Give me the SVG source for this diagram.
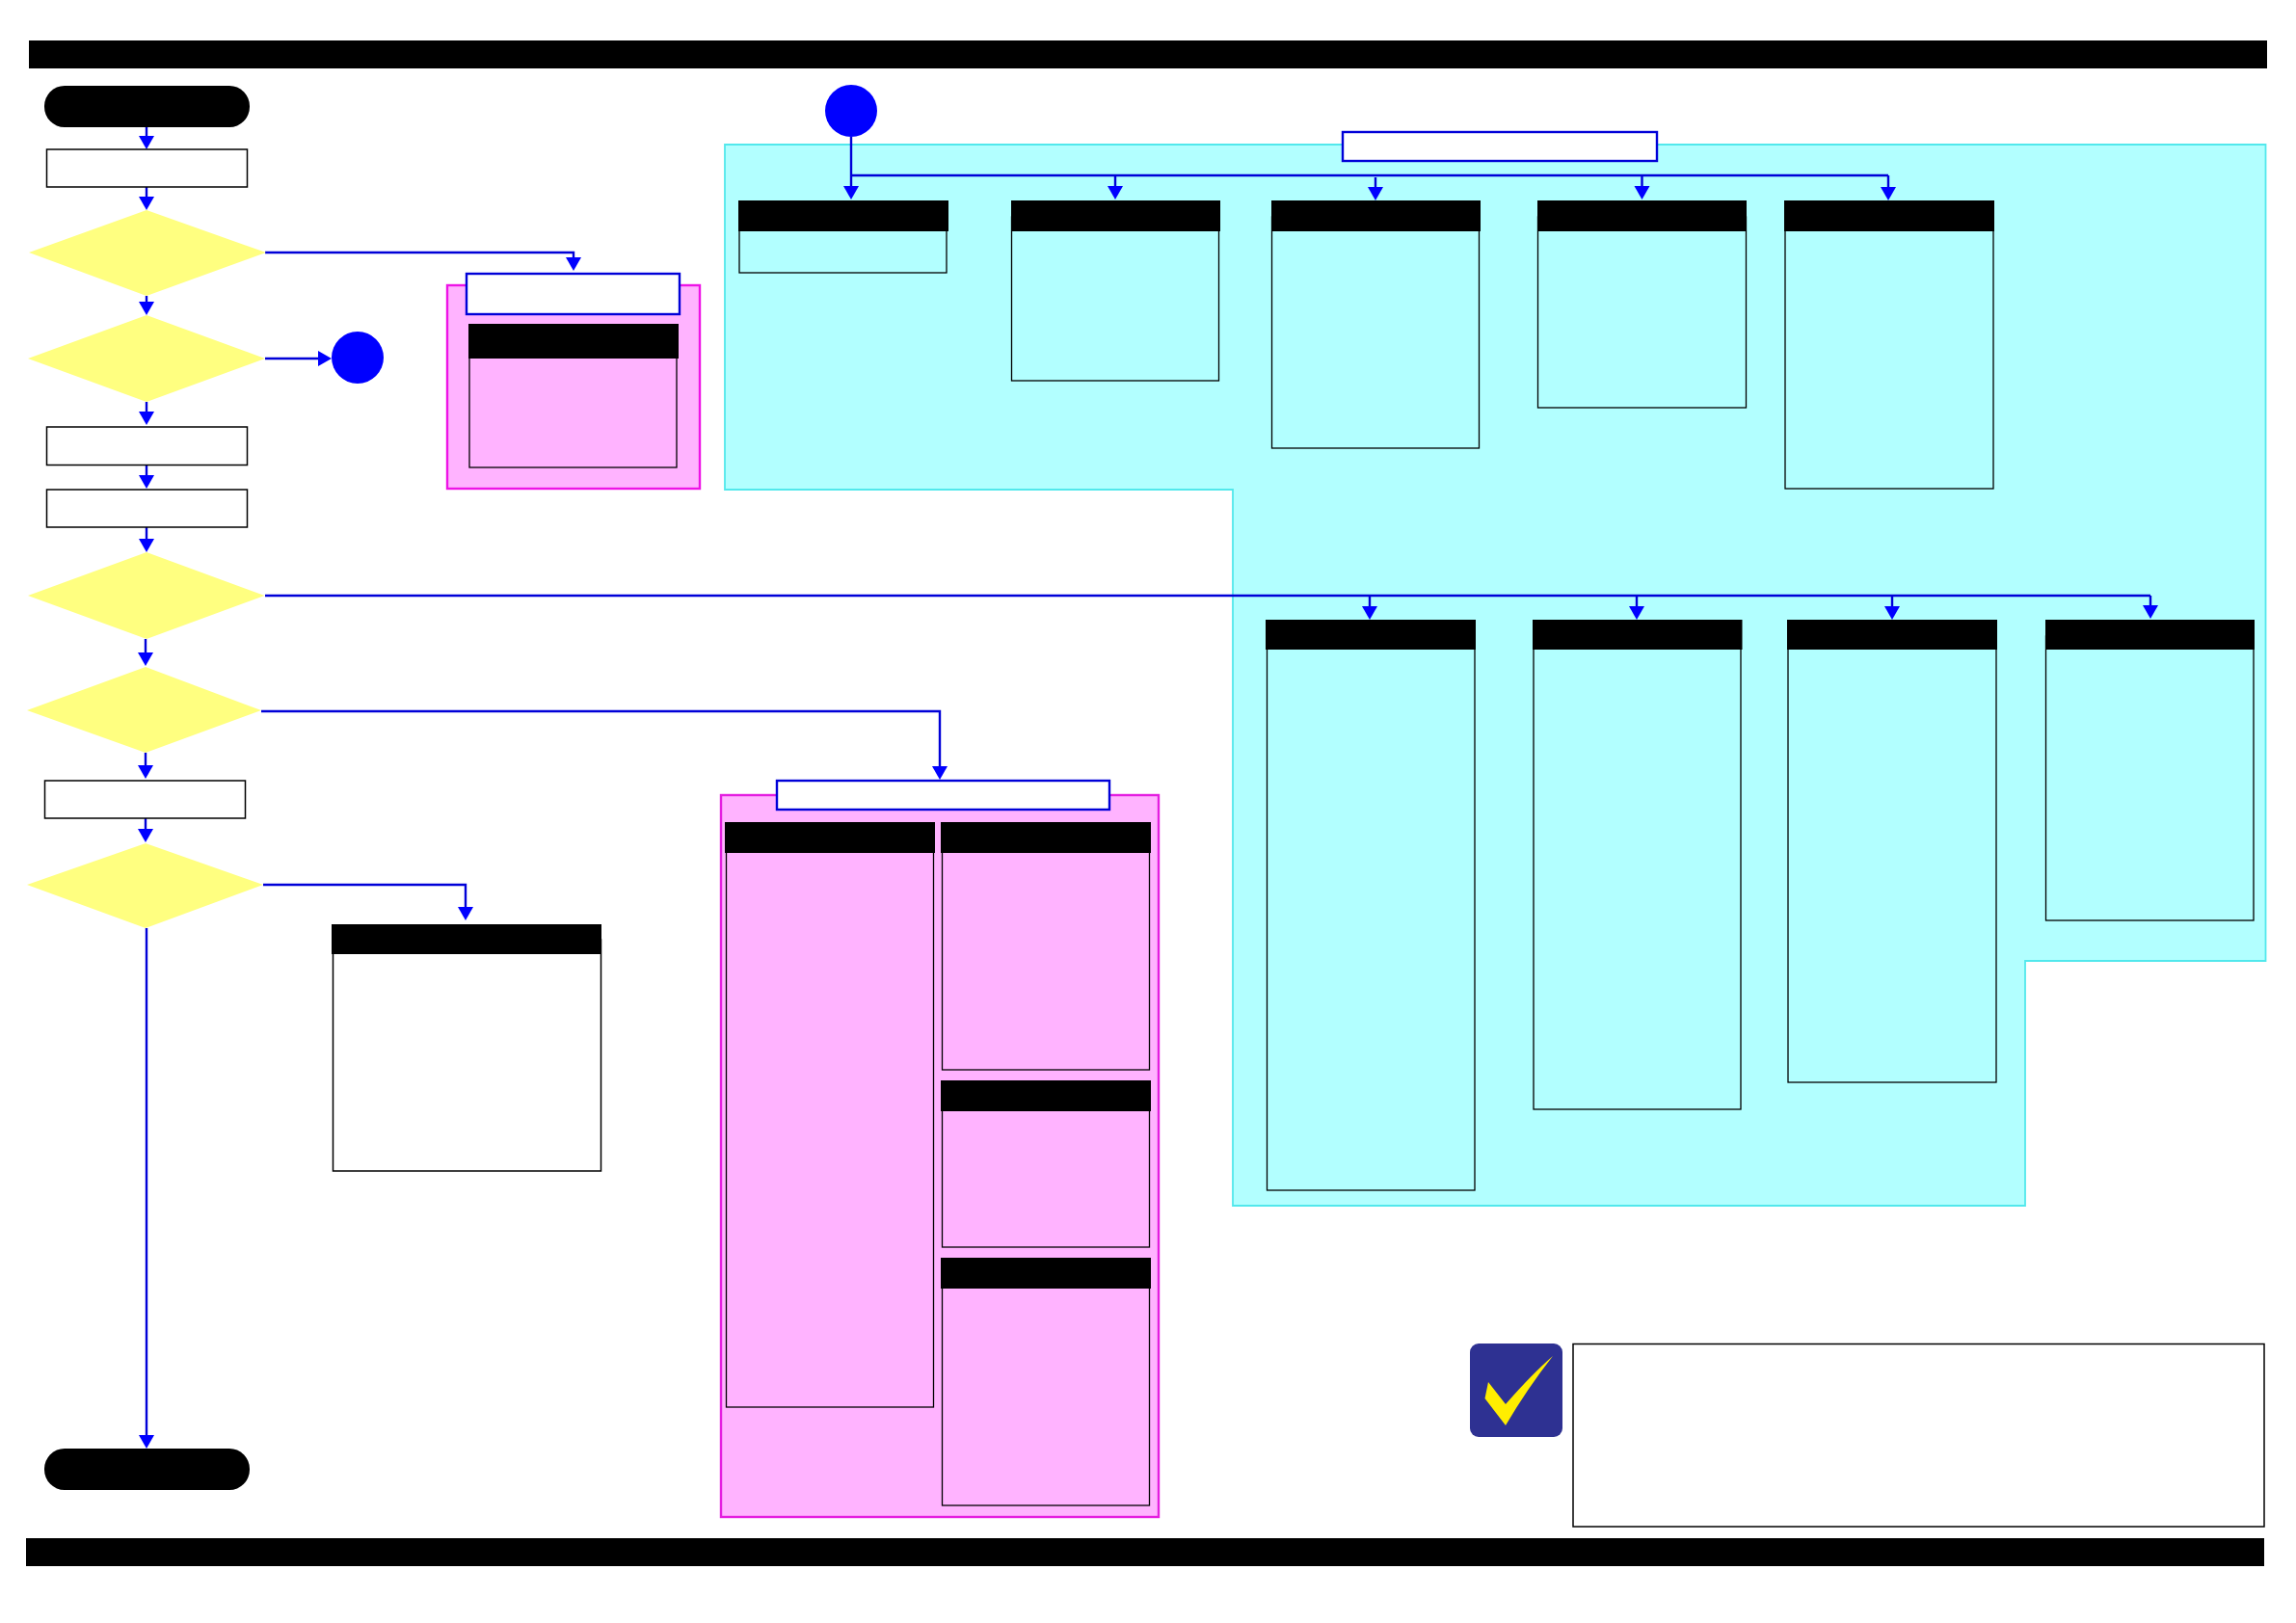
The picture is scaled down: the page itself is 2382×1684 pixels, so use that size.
<svg xmlns="http://www.w3.org/2000/svg" width="2382" height="1684" viewBox="0 0 2382 1684">
<style>
.bar,.hd,.pill{fill:#000}
.box{fill:#fff;stroke:#000;stroke-width:1.5}
.dia{fill:#ffff80}
.dot{fill:#00f}
.title{fill:#fff;stroke:#0000d8;stroke-width:2.4}
.cyanbody{fill:#b2ffff;stroke:#000;stroke-width:1.3}
.pinkbody{fill:#ffb3ff;stroke:#000;stroke-width:1.3}
.cn{fill:none;stroke:#0000d8;stroke-width:2.4;marker-end:url(#ah)}
.cn0{fill:none;stroke:#0000d8;stroke-width:2.4}
</style>
<defs>
<marker id="ah" markerUnits="userSpaceOnUse" markerWidth="15" markerHeight="17" refX="6" refY="8" orient="auto" viewBox="0 0 15 17"><path d="M0 0L14 8L0 16Z" fill="#00f"/></marker>
</defs>
<rect width="2382" height="1684" fill="#fff"/>
<g id="bars">
<rect class="bar" x="30" y="42" width="2322" height="29"/>
<rect class="bar" x="27" y="1596" width="2322" height="29"/>
</g>
<g id="regions">
<path id="region-cyan" d="M752 150H2350.5V997H2101V1251H1279V508H752Z" fill="#b2ffff" stroke="#52e8ec" stroke-width="1.8"/>
<rect id="region-pink-1" x="464" y="296" width="262" height="211" fill="#ffb3ff" stroke="#ee14e6" stroke-width="2.4"/>
<rect id="region-pink-2" x="748" y="825" width="454" height="749" fill="#ffb3ff" stroke="#e41ee0" stroke-width="2.4"/>
</g>
<g id="connectors">
<path class="cn" d="M152 132V147"/>
<path class="cn" d="M152 194V210"/>
<path class="cn" d="M152 307V319"/>
<path class="cn" d="M152 417V433"/>
<path class="cn" d="M152 483V499"/>
<path class="cn" d="M152 547V565"/>
<path class="cn" d="M151 663V683"/>
<path class="cn" d="M151 781V800"/>
<path class="cn" d="M151 849V866"/>
<path class="cn" d="M152 963V1495"/>
<path class="cn" d="M275 262H595V273"/>
<path class="cn" d="M275 372H336"/>
<path class="cn" d="M271 738H975V801"/>
<path class="cn" d="M273 918H483V947"/>
<path class="cn0" d="M275 618H2231"/>
<path class="cn" d="M1421 618V635"/>
<path class="cn" d="M1698 618V635"/>
<path class="cn" d="M1963 618V635"/>
<path class="cn" d="M2231 618V634"/>
<path class="cn" d="M883 142V199"/>
<path class="cn0" d="M883 182H1959"/>
<path class="cn" d="M1157 182V199"/>
<path class="cn" d="M1427 184V200"/>
<path class="cn" d="M1703.5 182V199"/>
<path class="cn" d="M1959 182V200"/>
</g>
<g id="start"><rect class="pill" x="46" y="89" width="213" height="43" rx="21" ry="21"/></g>
<g id="box-1"><rect class="box" x="48.5" y="155" width="208" height="39"/></g>
<g id="decision-1"><polygon class="dia" points="30,262 152,218 276,262 152,307"/></g>
<g id="decision-2"><polygon class="dia" points="29,372 152,327 275,372 152,417"/></g>
<g id="connector-a"><circle class="dot" cx="371" cy="371" r="27"/></g>
<g id="box-2"><rect class="box" x="48.5" y="443" width="208" height="39.5"/></g>
<g id="box-3"><rect class="box" x="48.5" y="508" width="208" height="39"/></g>
<g id="decision-3"><polygon class="dia" points="29,618 152,573 274.500,618 152,663"/></g>
<g id="decision-4"><polygon class="dia" points="28,737 151,692 271,737 151,781"/></g>
<g id="box-4"><rect class="box" x="46.500" y="810" width="208" height="39"/></g>
<g id="decision-5"><polygon class="dia" points="28,918 151,875 273,918 151,963"/></g>
<g id="end"><rect class="pill" x="46" y="1503" width="213" height="43" rx="21" ry="21"/></g>
<g id="title-pink-1"><rect class="title" x="484" y="284" width="221" height="42"/></g>
<g id="panel-p1"><rect class="pinkbody" x="487" y="350" width="215" height="135"/><rect class="hd" x="486" y="336" width="218" height="36"/></g>
<g id="panel-white"><rect class="box" x="345.500" y="975" width="278" height="240"/><rect class="hd" x="344" y="959" width="280" height="31"/></g>
<g id="title-cyan"><rect class="title" x="1393" y="137" width="326" height="30"/></g>
<g id="connector-a2"><circle class="dot" cx="883" cy="115" r="27"/></g>
<g id="panel-c1"><rect class="cyanbody" x="767" y="225" width="215" height="58"/><rect class="hd" x="766" y="208" width="218" height="32"/></g>
<g id="panel-c2"><rect class="cyanbody" x="1049.500" y="225" width="215" height="170"/><rect class="hd" x="1049" y="208" width="217" height="32"/></g>
<g id="panel-c3"><rect class="cyanbody" x="1319.500" y="225" width="215" height="240"/><rect class="hd" x="1319" y="208" width="217" height="32"/></g>
<g id="panel-c4"><rect class="cyanbody" x="1595.500" y="225" width="216" height="198"/><rect class="hd" x="1595" y="208" width="217" height="32"/></g>
<g id="panel-c5"><rect class="cyanbody" x="1852" y="225" width="216" height="282"/><rect class="hd" x="1851" y="208" width="218" height="32"/></g>
<g id="panel-c6"><rect class="cyanbody" x="1314.500" y="660" width="215.500" height="575"/><rect class="hd" x="1313" y="643" width="218" height="31"/></g>
<g id="panel-c7"><rect class="cyanbody" x="1591" y="660" width="215" height="491"/><rect class="hd" x="1590" y="643" width="217.500" height="31"/></g>
<g id="panel-c8"><rect class="cyanbody" x="1855" y="660" width="216" height="463"/><rect class="hd" x="1854" y="643" width="218" height="31"/></g>
<g id="panel-c9"><rect class="cyanbody" x="2122.500" y="660" width="215.500" height="295"/><rect class="hd" x="2122" y="643" width="217" height="31"/></g>
<g id="title-pink-2"><rect class="title" x="806" y="810" width="345" height="30"/></g>
<g id="panel-p2"><rect class="pinkbody" x="753.500" y="870" width="215" height="590"/><rect class="hd" x="752" y="853" width="218" height="32"/></g>
<g id="panel-p3"><rect class="pinkbody" x="977.500" y="870" width="215" height="240"/><rect class="hd" x="976" y="853" width="218" height="32"/></g>
<g id="panel-p4"><rect class="pinkbody" x="977.500" y="1138" width="215" height="156"/><rect class="hd" x="976" y="1121" width="218" height="32"/></g>
<g id="panel-p5"><rect class="pinkbody" x="977.500" y="1322" width="215" height="240"/><rect class="hd" x="976" y="1305" width="218" height="32"/></g>
<g id="note-icon"><rect x="1525" y="1394" width="96" height="97" rx="9" fill="#2e3192"/><path d="M1540.500 1451L1544 1434L1562 1457Q1590 1425 1611 1407Q1585 1440 1562 1479Z" fill="#ffee00"/></g>
<g id="note-box"><rect class="box" x="1632" y="1394.500" width="717" height="189.500"/></g>
</svg>
